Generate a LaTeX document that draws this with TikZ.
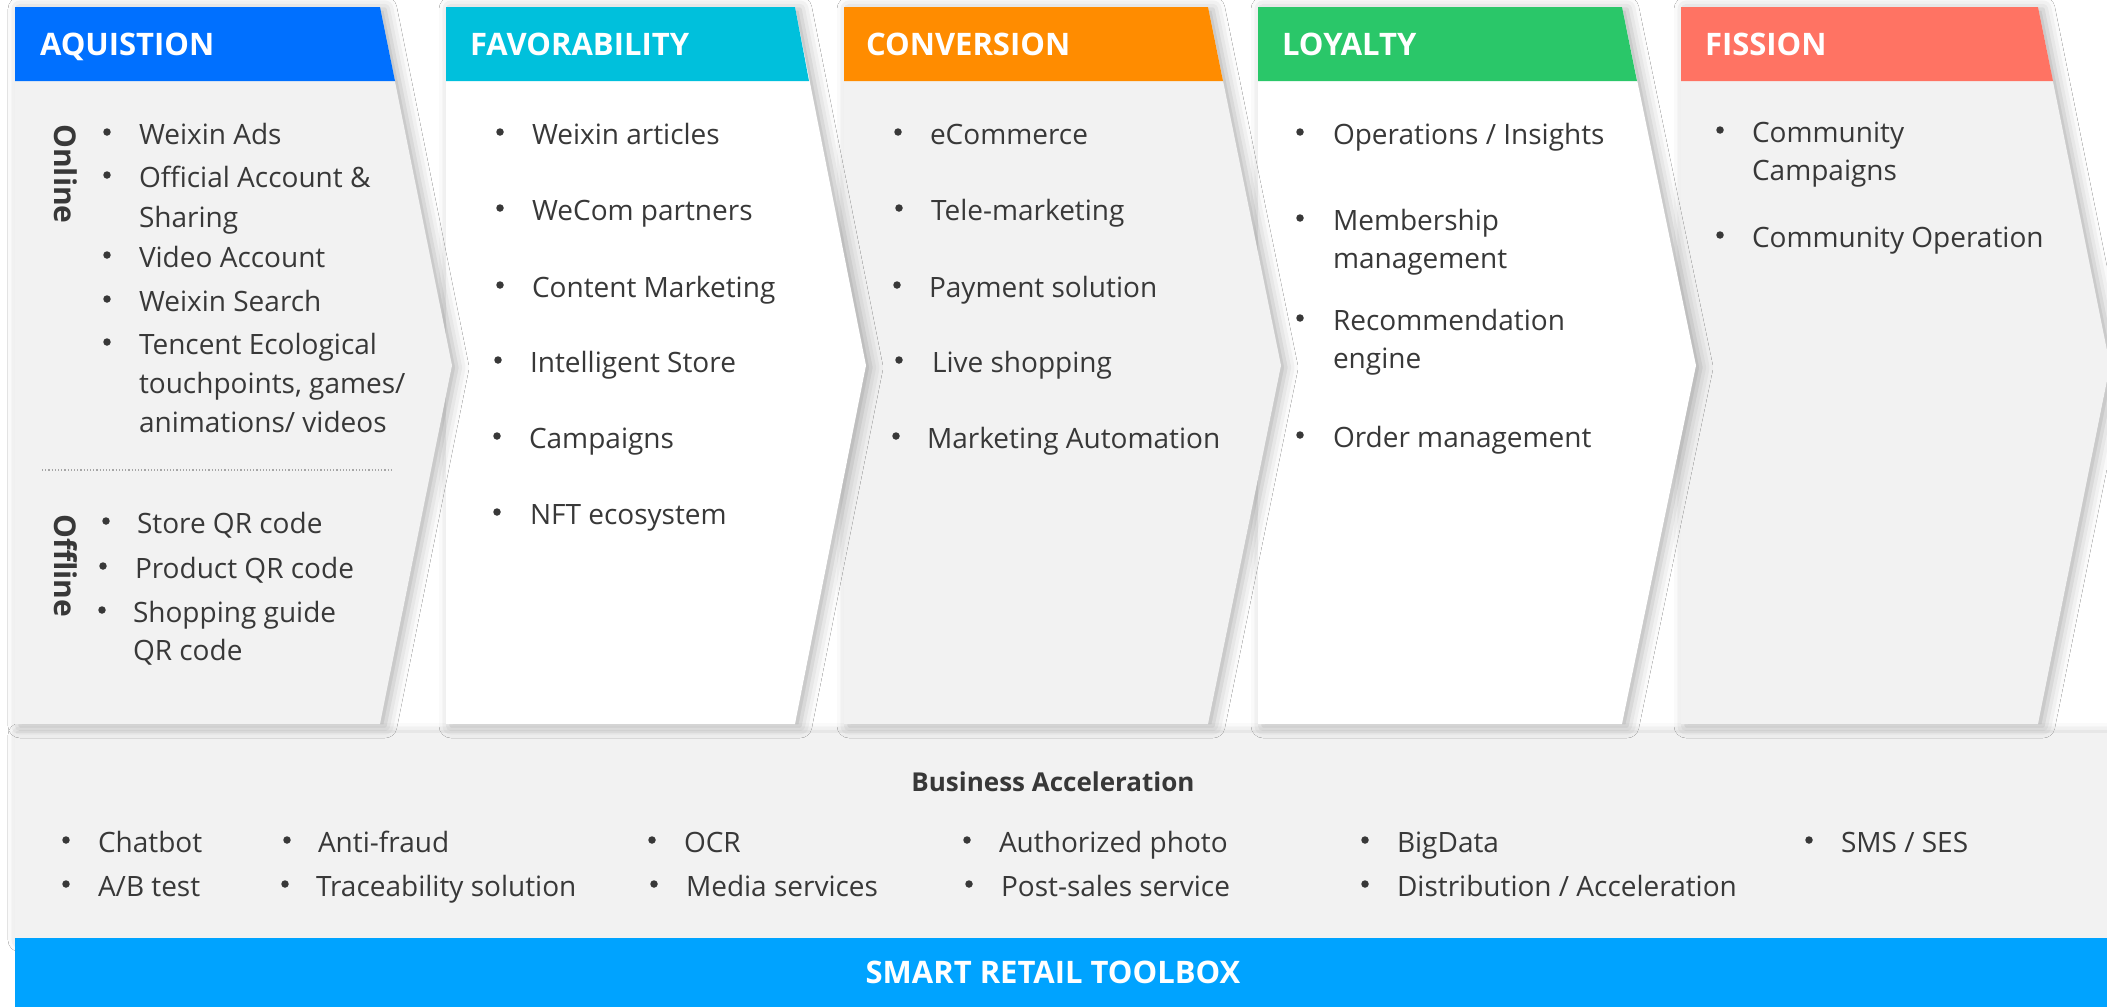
\documentclass[tikz,border=0pt]{standalone}
\usepackage{fontspec}
\setmainfont{Open Sans}
\usetikzlibrary{shadows.blur}
\definecolor{txt}{HTML}{383838}
\definecolor{pgrey}{HTML}{F2F2F2}
\definecolor{cAq}{HTML}{0070FF}
\definecolor{cFav}{HTML}{00C0DC}
\definecolor{cConv}{HTML}{FF8C00}
\definecolor{cLoy}{HTML}{2AC769}
\definecolor{cFis}{HTML}{FF7363}
\definecolor{cTool}{HTML}{00A3FF}
\newcommand\bitem[5]{%
  \node[dotst] (#1b) at (#2,#4) {};
  \node[itm] (#1) at (#3,#4) {#5};}
\begin{document}
\begin{tikzpicture}[x=1pt,y=-1pt,
  every node/.style={inner sep=0pt,outer sep=0pt},
  itm/.style={anchor=base west,font=\fontsize{28}{40}\selectfont,text=txt},
  dotst/.style={circle,fill=txt,minimum size=7.5pt,yshift=12pt},
  hdr/.style={anchor=base west,font=\bfseries\fontsize{31}{38}\selectfont,text=white},
  side/.style={font=\bfseries\fontsize{30}{34}\selectfont,text=txt,rotate=-90},
  sh/.style={blur shadow={shadow xshift=5pt,shadow yshift=-2pt,shadow blur radius=12pt,shadow opacity=30}}]
\useasboundingbox (0,0) rectangle (2107,1007);
\fill[white] (0,0) rectangle (2107,1007);
% bottom band
\fill[pgrey,sh] (15,733) rectangle (2130,938);
\fill[cTool] (15,938) rectangle (2130,1007);
% panels, right to left
\fill[pgrey,sh] (1681,7) -- (2038,7) -- (2110,365.5) -- (2038,724) -- (1681,724) -- cycle;
\fill[cFis] (1681,7) -- (2038,7) -- (2053,81) -- (1681,81) -- cycle;
\fill[white,sh] (1258,7) -- (1622,7) -- (1696,365.5) -- (1622,724) -- (1258,724) -- cycle;
\fill[cLoy] (1258,7) -- (1622,7) -- (1637,81) -- (1258,81) -- cycle;
\fill[pgrey,sh] (844,7) -- (1208,7) -- (1281,365.5) -- (1208,724) -- (844,724) -- cycle;
\fill[cConv] (844,7) -- (1208,7) -- (1223,81) -- (844,81) -- cycle;
\fill[white,sh] (446,7) -- (795,7) -- (866,365.5) -- (795,724) -- (446,724) -- cycle;
\fill[cFav] (446,7) -- (795,7) -- (809,81) -- (446,81) -- cycle;
\fill[pgrey,sh] (15,7) -- (380,7) -- (452,365.5) -- (380,724) -- (15,724) -- cycle;
\fill[cAq] (15,7) -- (380,7) -- (395,81) -- (15,81) -- cycle;
% headers
\node[hdr] (hAq) at (40,55) {AQUISTION};
\node[hdr] (hFav) at (470,55) {FAVORABILITY};
\node[hdr] (hConv) at (866,55) {CONVERSION};
\node[hdr] (hLoy) at (1282,55) {LOYALTY};
\node[hdr] (hFis) at (1705,55) {FISSION};
% Aquisition
\node[side] (online) at (66,174) {Online};
\node[side] (offline) at (66,566) {Offline};
\bitem{a1}{107}{139}{144}{Weixin Ads}
\bitem{a2}{107}{139}{187}{Official Account \&}
\node[itm] (a2x) at (139,227) {Sharing};
\bitem{a3}{107}{139}{267}{Video Account}
\bitem{a4}{107}{139}{311}{Weixin Search}
\bitem{a5}{107}{139}{354}{Tencent Ecological}
\node[itm] (a5x) at (139,393) {touchpoints, games/};
\node[itm] (a5y) at (139,432) {animations/ videos};
\draw[gray!70,dotted,line width=1.2pt] (42,470) -- (392,470);
\bitem{o1}{106}{137}{533}{Store QR code}
\bitem{o2}{103}{135}{578}{Product QR code}
\bitem{o3}{102}{133}{622}{Shopping guide}
\node[itm] (o3x) at (133,660) {QR code};
% Favorability
\bitem{f1}{500}{532}{144}{Weixin articles}
\bitem{f2}{500}{532}{220}{WeCom partners}
\bitem{f3}{500}{532}{297}{Content Marketing}
\bitem{f4}{498}{530}{372}{Intelligent Store}
\bitem{f5}{497}{529}{448}{Campaigns}
\bitem{f6}{497}{530}{524}{NFT ecosystem}
% Conversion
\bitem{c1}{898}{930}{144}{eCommerce}
\bitem{c2}{899}{931}{220}{Tele-marketing}
\bitem{c3}{897}{929}{297}{Payment solution}
\bitem{c4}{899}{932}{372}{Live shopping}
\bitem{c5}{896}{927}{448}{Marketing Automation}
% Loyalty
\bitem{l1}{1300}{1333}{144}{Operations / Insights}
\bitem{l2}{1300}{1333}{230}{Membership}
\node[itm] (l2x) at (1333,268) {management};
\bitem{l3}{1300}{1333}{330}{Recommendation}
\node[itm] (l3x) at (1333,368) {engine};
\bitem{l4}{1300}{1333}{447}{Order management}
% Fission
\bitem{s1}{1720}{1752}{142}{Community}
\node[itm] (s1x) at (1752,180) {Campaigns};
\bitem{s2}{1720}{1752}{247}{Community Operation}
% Business acceleration
\node[anchor=base,font=\bfseries\fontsize{26}{30}\selectfont,text=txt] (ba) at (1053,791) {Business Acceleration};
\bitem{b1}{66}{98}{852}{Chatbot}
\bitem{b2}{66}{98}{896}{A/B test}
\bitem{b3}{287}{318}{852}{Anti-fraud}
\bitem{b4}{285}{316}{896}{Traceability solution}
\bitem{b5}{652}{684}{852}{OCR}
\bitem{b6}{654}{686}{896}{Media services}
\bitem{b7}{967}{999}{852}{Authorized photo}
\bitem{b8}{969}{1001}{896}{Post-sales service}
\bitem{b9}{1365}{1397}{852}{BigData}
\bitem{b10}{1365}{1397}{896}{Distribution / Acceleration}
\bitem{b11}{1809}{1841}{852}{SMS / SES}
\node[anchor=base,font=\bfseries\fontsize{31}{36}\selectfont,text=white] (tool) at (1053,983) {SMART RETAIL TOOLBOX};
\end{tikzpicture}
\end{document}
